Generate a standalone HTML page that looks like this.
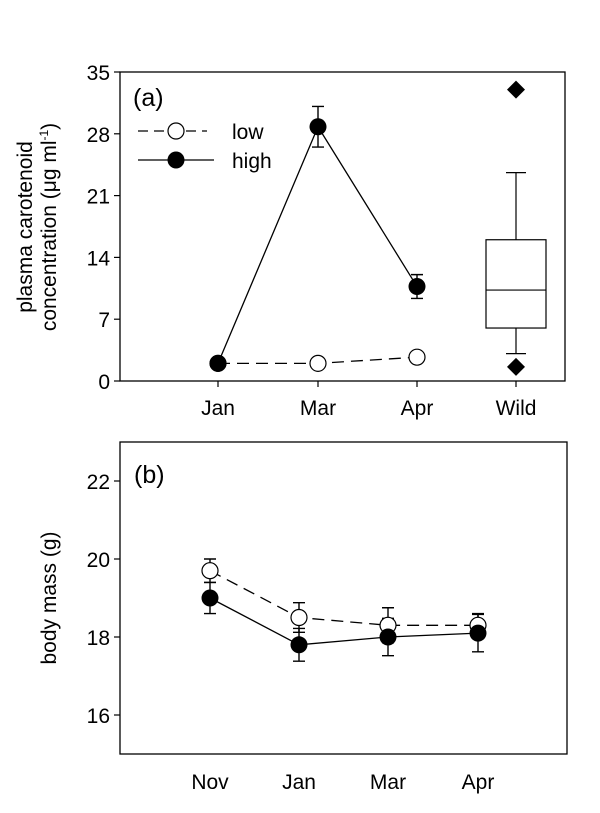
<!DOCTYPE html>
<html><head><meta charset="utf-8"><style>
body{margin:0;background:#fff;}
svg{display:block;font-family:"Liberation Sans",Arial,sans-serif;}
</style></head><body>
<svg id="chart" width="600" height="813" viewBox="0 0 600 813"></svg>
<script>
const catsA = ["Jan","Mar","Apr"];
const lowA = [2.0, 2.0, 2.7];
const highA = [2.0, 28.8, 10.7];
const highAErr = [0, 2.3, 1.35];
const yTicksA = [0,7,14,21,28,35];
const boxWild = {whiskLo:3.1, q1:6.0, med:10.3, q3:16.0, whiskHi:23.6};
const outliersWild = [33.0, 1.6];
const catsB = ["Nov","Jan","Mar","Apr"];
const lowB = [19.7, 18.5, 18.3, 18.3];
const lowBErr = [0.3, 0.38, 0.45, 0.3];
const highB = [19.0, 17.8, 18.0, 18.1];
const highBErr = [0.4, 0.42, 0.48, 0.48];
const yTicksB = [16,18,20,22];

const NS="http://www.w3.org/2000/svg";
const svg=document.getElementById('chart');
const FS=21;
function el(tag,attrs,parent,text){const e=document.createElementNS(NS,tag);for(const k in attrs)e.setAttribute(k,attrs[k]);if(text!==undefined)e.textContent=text;(parent||svg).appendChild(e);return e;}

// Panel A
const A={l:120,r:565,t:72,b:381,min:0,max:35};
const yA=v=>A.b-(v-A.min)/(A.max-A.min)*(A.b-A.t);
const xAPos=[218,318,417,516];
const xA=i=>xAPos[i];
const gA=el('g',{});


let f=el('rect',{x:A.l,y:A.t,width:A.r-A.l,height:A.b-A.t,fill:'none',stroke:'#000','stroke-width':1.3},gA);

yTicksA.forEach(v=>{
  const l=el('line',{x1:A.l-6,x2:A.l,y1:yA(v),y2:yA(v),stroke:'#000','stroke-width':1.2},gA);
  
  const t=el('text',{x:A.l-10,y:yA(v)+8,'text-anchor':'end','font-size':FS},gA,String(v));
  
});
catsA.concat(["Wild"]).forEach((c,i)=>{
  const l=el('line',{x1:xA(i),x2:xA(i),y1:A.b,y2:A.b+6,stroke:'#000','stroke-width':1.2},gA);
  
  const t=el('text',{x:xA(i),y:415,'text-anchor':'middle','font-size':FS},gA,c);
  
});
let yl=el('text',{transform:'translate(32,227) rotate(-90)','text-anchor':'middle','font-size':FS},gA,'plasma carotenoid');

yl=el('text',{transform:'translate(56,227) rotate(-90)','text-anchor':'middle','font-size':FS},gA);

yl.innerHTML='concentration (μg ml<tspan dy="-8" font-size="12">-1</tspan><tspan dy="8">)</tspan>';
let pl=el('text',{x:133,y:106,'font-size':25},gA,'(a)');

// legend
const lg=el('g',{},gA);
let ll=el('line',{x1:138,x2:207,y1:131,y2:131,stroke:'#000','stroke-width':1.3,'stroke-dasharray':'10,6'},lg);

let lc=el('circle',{cx:176,cy:131,r:8,fill:'#fff',stroke:'#000','stroke-width':1.2},lg);

let lt=el('text',{x:232,y:139,'font-size':FS},lg,'low');

ll=el('line',{x1:138,x2:214,y1:160,y2:160,stroke:'#000','stroke-width':1.3},lg);

lc=el('circle',{cx:176,cy:160,r:8.5,fill:'#000'},lg);

lt=el('text',{x:232,y:168,'font-size':FS},lg,'high');

// series
let p=el('polyline',{points:lowA.map((v,i)=>xA(i)+','+yA(v)).join(' '),fill:'none',stroke:'#000','stroke-width':1.3,'stroke-dasharray':'12,7'},gA);

p=el('polyline',{points:highA.map((v,i)=>xA(i)+','+yA(v)).join(' '),fill:'none',stroke:'#000','stroke-width':1.3},gA);

highA.forEach((v,i)=>{
  if(highAErr[i]>0){
    const e=el('path',{d:`M${xA(i)},${yA(v-highAErr[i])}V${yA(v+highAErr[i])}M${xA(i)-6},${yA(v-highAErr[i])}h12M${xA(i)-6},${yA(v+highAErr[i])}h12`,stroke:'#000','stroke-width':1.4,fill:'none'},gA);
    
  }
});
lowA.forEach((v,i)=>{const c=el('circle',{cx:xA(i),cy:yA(v),r:8,fill:'#fff',stroke:'#000','stroke-width':1.2},gA);
  });
highA.forEach((v,i)=>{const c=el('circle',{cx:xA(i),cy:yA(v),r:8.5,fill:'#000'},gA);
  });
// box
const bx=xA(3),bw=30;
let b=el('path',{d:`M${bx},${yA(boxWild.whiskLo)}V${yA(boxWild.q1)}M${bx},${yA(boxWild.q3)}V${yA(boxWild.whiskHi)}M${bx-10},${yA(boxWild.whiskLo)}h20M${bx-10},${yA(boxWild.whiskHi)}h20`,stroke:'#000','stroke-width':1.2,fill:'none'},gA);

b=el('rect',{x:bx-bw,y:yA(boxWild.q3),width:bw*2,height:yA(boxWild.q1)-yA(boxWild.q3),fill:'#fff',stroke:'#000','stroke-width':1.2},gA);

b=el('line',{x1:bx-bw,x2:bx+bw,y1:yA(boxWild.med),y2:yA(boxWild.med),stroke:'#000','stroke-width':1.2},gA);

outliersWild.forEach(v=>{const y=yA(v);const d=el('path',{d:`M${bx},${y-9}L${bx+9},${y}L${bx},${y+9}L${bx-9},${y}Z`,fill:'#000'},gA);
  });

// Panel B
const B={l:120,r:567,t:442,b:754,min:15,max:23};
const yB=v=>B.b-(v-B.min)/(B.max-B.min)*(B.b-B.t);
const xBPos=[210,299,388,478];
const xB=i=>xBPos[i];
const gB=el('g',{});


f=el('rect',{x:B.l,y:B.t,width:B.r-B.l,height:B.b-B.t,fill:'none',stroke:'#000','stroke-width':1.3},gB);

yTicksB.forEach(v=>{
  const l=el('line',{x1:B.l-6,x2:B.l,y1:yB(v),y2:yB(v),stroke:'#000','stroke-width':1.2},gB);
  
  const t=el('text',{x:B.l-10,y:yB(v)+8,'text-anchor':'end','font-size':FS},gB,String(v));
  
});
catsB.forEach((c,i)=>{
  const t=el('text',{x:xB(i),y:789,'text-anchor':'middle','font-size':FS},gB,c);
  
});
yl=el('text',{transform:'translate(56,598) rotate(-90)','text-anchor':'middle','font-size':FS},gB,'body mass (g)');

pl=el('text',{x:134,y:483,'font-size':25},gB,'(b)');

function errs(vals,errsArr,name){
  vals.forEach((v,i)=>{const x=xB(i),lo=yB(v-errsArr[i]),hi=yB(v+errsArr[i]);
    const e=el('path',{d:`M${x},${lo}V${hi}M${x-6},${lo}h12M${x-6},${hi}h12`,stroke:'#000','stroke-width':1.4,fill:'none'},gB);
    });
}
errs(lowB,lowBErr,'error-bar-low-b');
errs(highB,highBErr,'error-bar-high-b');
p=el('polyline',{points:lowB.map((v,i)=>xB(i)+','+yB(v)).join(' '),fill:'none',stroke:'#000','stroke-width':1.3,'stroke-dasharray':'12,7'},gB);

p=el('polyline',{points:highB.map((v,i)=>xB(i)+','+yB(v)).join(' '),fill:'none',stroke:'#000','stroke-width':1.3},gB);

lowB.forEach((v,i)=>{const c=el('circle',{cx:xB(i),cy:yB(v),r:8,fill:'#fff',stroke:'#000','stroke-width':1.2},gB);
  });
highB.forEach((v,i)=>{const c=el('circle',{cx:xB(i),cy:yB(v),r:8.5,fill:'#000'},gB);
  });
</script>
</body></html>
